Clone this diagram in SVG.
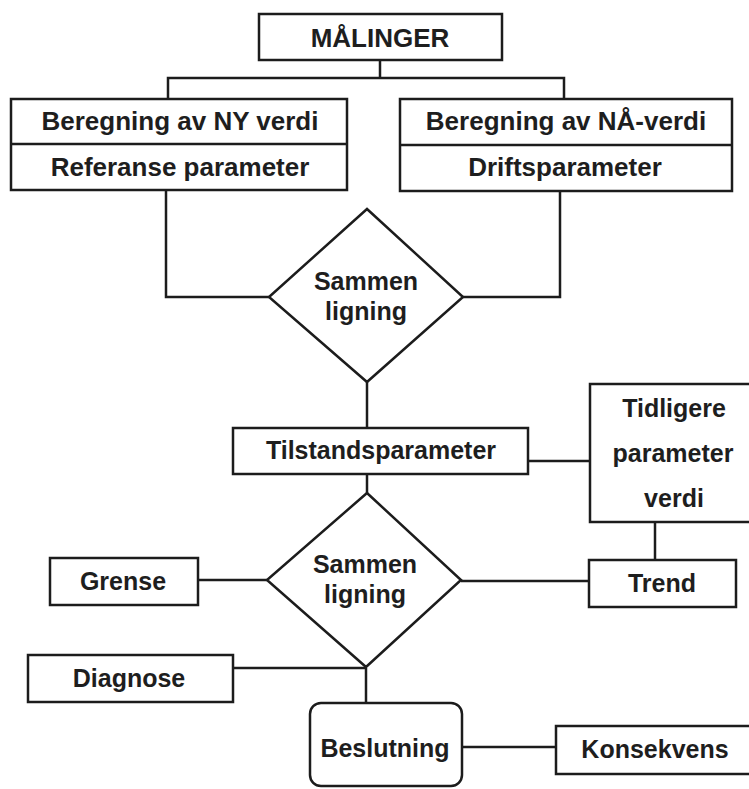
<svg xmlns="http://www.w3.org/2000/svg" width="749" height="789" viewBox="0 0 749 789">
  <style>
    .box { fill: #fff; stroke: #1c1c1c; stroke-width: 2.5; }
    .line { fill: none; stroke: #1c1c1c; stroke-width: 2.5; }
    text { font-family: "Liberation Sans", Arial, sans-serif; font-weight: bold; font-size: 25px; fill: #1e1e1e; text-anchor: middle; }
    .big { font-size: 26px; }
  </style>
  <rect width="749" height="789" fill="#fff"/>

  <!-- connectors -->
  <g id="connectors">
    <polyline class="line" points="380,60 380,78"/>
    <polyline class="line" points="168,99 168,78 564,78 564,99"/>
    <polyline class="line" points="166,190 166,297 269,297"/>
    <polyline class="line" points="463,297 560,297 560,191"/>
    <polyline class="line" points="367,382 367,428"/>
    <polyline class="line" points="528,461 590,461"/>
    <polyline class="line" points="367,474 367,494"/>
    <polyline class="line" points="198,580 267,580"/>
    <polyline class="line" points="461,581 589,581"/>
    <polyline class="line" points="655,522 655,560"/>
    <polyline class="line" points="233,668 366,668"/>
    <polyline class="line" points="366,668 366,703"/>
    <polyline class="line" points="462,747 556,747"/>
  </g>

  <g id="malinger">
    <rect class="box" x="259" y="14" width="243" height="46"/>
    <text class="big" x="380" y="47">MÅLINGER</text>
  </g>

  <g id="ny-verdi">
    <rect class="box" x="11" y="99" width="336" height="91"/>
    <line class="line" x1="11" y1="144" x2="347" y2="144"/>
    <text class="big" x="180" y="130">Beregning av NY verdi</text>
    <text class="big" x="180" y="176">Referanse parameter</text>
  </g>

  <g id="na-verdi">
    <rect class="box" x="400" y="99" width="332" height="92"/>
    <line class="line" x1="400" y1="145" x2="732" y2="145"/>
    <text class="big" x="566" y="130">Beregning av NÅ-verdi</text>
    <text class="big" x="565" y="176">Driftsparameter</text>
  </g>

  <g id="sammenligning-1">
    <polygon class="box" points="367,209 463,297 367,382 269,297"/>
    <text x="366" y="290">Sammen</text>
    <text x="366" y="320">ligning</text>
  </g>

  <g id="tilstandsparameter">
    <rect class="box" x="233" y="428" width="295" height="46"/>
    <text x="381" y="459">Tilstandsparameter</text>
  </g>

  <g id="tidligere">
    <rect class="box" x="590" y="384" width="170" height="138"/>
    <text x="674" y="417">Tidligere</text>
    <text x="673" y="462">parameter</text>
    <text x="674" y="507">verdi</text>
  </g>

  <g id="sammenligning-2">
    <polygon class="box" points="367,493 461,580 366,667 267,580"/>
    <text x="365" y="573">Sammen</text>
    <text x="365" y="603">ligning</text>
  </g>

  <g id="grense">
    <rect class="box" x="50" y="558" width="148" height="47"/>
    <text x="123" y="590">Grense</text>
  </g>

  <g id="trend">
    <rect class="box" x="589" y="560" width="147" height="47"/>
    <text x="662" y="592">Trend</text>
  </g>

  <g id="diagnose">
    <rect class="box" x="28" y="655" width="205" height="47"/>
    <text x="129" y="687">Diagnose</text>
  </g>

  <g id="beslutning">
    <rect class="box" x="310" y="703" width="152" height="83" rx="11" ry="11"/>
    <text x="385" y="757">Beslutning</text>
  </g>

  <g id="konsekvens">
    <rect class="box" x="556" y="726" width="210" height="48"/>
    <text x="655" y="758">Konsekvens</text>
  </g>
</svg>
